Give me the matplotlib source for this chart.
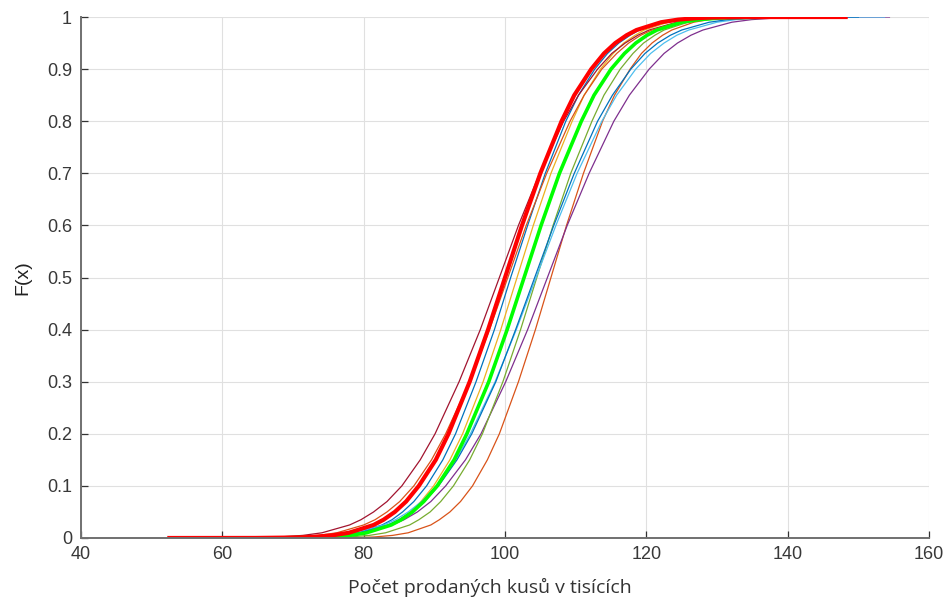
import matplotlib

matplotlib.use("Agg")
import matplotlib.pyplot as plt

# CDF levels shared by every curve; each curve lists the x where it reaches them
F_LEVELS = [0.0001, 0.001, 0.002, 0.005, 0.01, 0.025, 0.035, 0.05, 0.07, 0.1,
            0.15, 0.2, 0.3, 0.4, 0.5, 0.6, 0.7, 0.8, 0.85, 0.9,
            0.93, 0.95, 0.965, 0.975, 0.99, 0.995, 0.998, 0.999, 0.9999]

# thin curves: start of range, x at each level above, end of range
blue_a = [59.0, 66.2, 72.1, 74.0, 76.8, 79.2, 82.6, 84.0, 85.5, 87.1, 88.9, 91.2, 93.0,
          95.9, 98.5, 100.8, 103.2, 105.7, 108.6, 110.4, 112.7, 114.5, 116.1, 117.7,
          119.0, 122.4, 124.8, 127.6, 129.5, 135.4, 143.0]
orange_a = [67.0, 74.1, 79.6, 81.5, 84.1, 86.3, 89.5, 90.7, 92.2, 93.7, 95.4, 97.5, 99.2,
            101.9, 104.3, 106.5, 108.7, 111.1, 113.8, 115.5, 117.7, 119.3, 120.8, 122.3,
            123.6, 126.7, 128.9, 131.5, 133.4, 138.9, 146.0]
yellow_a = [60.0, 67.5, 73.3, 75.2, 78.0, 80.3, 83.7, 85.0, 86.6, 88.1, 89.9, 92.2, 94.0,
            96.9, 99.4, 101.7, 104.0, 106.5, 109.5, 111.2, 113.5, 115.3, 116.8, 118.4,
            119.7, 123.1, 125.4, 128.2, 130.1, 135.9, 142.0]
purple_a = [62.0, 64.4, 71.4, 73.8, 77.2, 80.0, 84.0, 85.7, 87.6, 89.5, 91.6, 94.4, 96.6,
            100.1, 103.2, 106.0, 108.8, 111.9, 115.4, 117.6, 120.4, 122.5, 124.4, 126.3,
            128.0, 132.1, 134.9, 138.2, 140.6, 147.7, 154.4]
olive_a = [64.0, 70.3, 76.1, 78.0, 80.8, 83.1, 86.5, 87.8, 89.4, 90.9, 92.7, 95.0, 96.8,
           99.7, 102.2, 104.5, 106.8, 109.3, 112.3, 114.0, 116.3, 118.1, 119.6, 121.2,
           122.5, 125.9, 128.2, 131.0, 132.9, 138.7, 145.0]
cyan_a = [58.0, 63.5, 70.4, 72.7, 76.1, 78.8, 82.8, 84.5, 86.3, 88.2, 90.3, 93.0, 95.1,
          98.6, 101.6, 104.4, 107.2, 110.2, 113.7, 115.8, 118.5, 120.6, 122.5, 124.3,
          126.0, 130.0, 132.7, 136.1, 138.4, 145.3, 153.7]
darkred_a = [55.0, 59.0, 65.8, 68.1, 71.4, 74.1, 78.0, 79.6, 81.4, 83.3, 85.4, 88.0, 90.1,
             93.5, 96.5, 99.2, 101.9, 104.9, 108.3, 110.4, 113.1, 115.1, 117.0, 118.8,
             120.4, 124.3, 127.0, 130.3, 132.6, 139.4, 146.0]
blue_b = [60.0, 64.8, 71.5, 73.7, 76.9, 79.5, 83.4, 85.0, 86.8, 88.6, 90.6, 93.2, 95.3,
          98.7, 101.5, 104.2, 106.9, 109.8, 113.1, 115.2, 117.8, 119.8, 121.6, 123.4,
          125.0, 128.9, 131.5, 134.7, 137.0, 143.6, 150.0]
orange_b = [56.0, 61.7, 68.3, 70.5, 73.6, 76.2, 80.0, 81.6, 83.3, 85.1, 87.1, 89.6, 91.6,
            95.0, 97.8, 100.4, 103.0, 105.9, 109.2, 111.2, 113.7, 115.8, 117.5, 119.2,
            120.8, 124.6, 127.2, 130.3, 132.5, 139.1, 147.0]

# the two highlighted curves
green_main = [57.0, 67.0, 73.0, 75.1, 78.0, 80.4, 83.9, 85.3, 86.9, 88.5, 90.4, 92.8, 94.6,
              97.7, 100.3, 102.7, 105.1, 107.7, 110.8, 112.6, 115.0, 116.9, 118.5, 120.1,
              121.5, 125.0, 127.4, 130.3, 132.4, 138.4, 147.0]
red_main = [52.5, 64.7, 70.6, 72.7, 75.5, 77.9, 81.4, 82.8, 84.4, 86.0, 87.8, 90.2, 92.0,
            95.0, 97.6, 100.0, 102.4, 105.0, 108.0, 109.8, 112.2, 114.0, 115.6, 117.2,
            118.6, 122.1, 124.5, 127.3, 129.4, 135.3, 148.2]

X_TICKS = [40, 60, 80, 100, 120, 140, 160]
Y_TICKS = [0, 0.1, 0.2, 0.3, 0.4, 0.5, 0.6, 0.7, 0.8, 0.9, 1]

F_FULL = [0.0] + F_LEVELS + [1.0]

thin = [
    (blue_a, "#0072BD"),
    (orange_a, "#D95319"),
    (yellow_a, "#EDB120"),
    (purple_a, "#7E2F8E"),
    (olive_a, "#77AC30"),
    (cyan_a, "#4DBEEE"),
    (darkred_a, "#A2142F"),
    (blue_b, "#0072BD"),
    (orange_b, "#D95319"),
]

fig = plt.figure(figsize=(9.51, 6.03), dpi=100)
ax = fig.add_axes([0.0852, 0.1078, 0.8917, 0.864])

for xs, col in thin:
    assert len(xs) == len(F_FULL)
    ax.plot(xs, F_FULL, color=col, lw=0.9)
ax.plot(green_main, F_FULL, color="#00FF00", lw=2.6, solid_joinstyle="round")
ax.plot(red_main, F_FULL, color="#FF0000", lw=3.0, solid_joinstyle="round")

ax.set_xlim(40, 160)
ax.set_ylim(0, 1)
ax.set_xticks(X_TICKS)
ax.set_yticks(Y_TICKS)
ax.set_yticklabels([f"{v:g}" for v in Y_TICKS])

for side in ("top", "right"):
    ax.spines[side].set_visible(False)
for side in ("left", "bottom"):
    ax.spines[side].set_color("#707070")
    ax.spines[side].set_linewidth(1.4)

ax.grid(True, color="#e0e0e0", lw=0.8)
ax.set_axisbelow(True)
ax.tick_params(direction="in", length=5, width=0.9, color="#333333",
               labelcolor="#383838", labelsize=13)
ax.tick_params(axis="x", pad=5.5)
ax.tick_params(axis="y", pad=6.5)
for lab in ax.get_xticklabels() + ax.get_yticklabels():
    lab.set_family("Liberation Sans")

ax.set_ylabel("F(x)", fontsize=14, family="Liberation Sans", color="#222222")
ax.set_xlabel("Počet prodaných kusů v tisících", fontsize=14, family="Open Sans",
              color="#333333")
ax.yaxis.set_label_coords(-0.058, 0.5)
ax.xaxis.set_label_coords(0.482, -0.076)

fig.savefig("out.png", dpi=100)
